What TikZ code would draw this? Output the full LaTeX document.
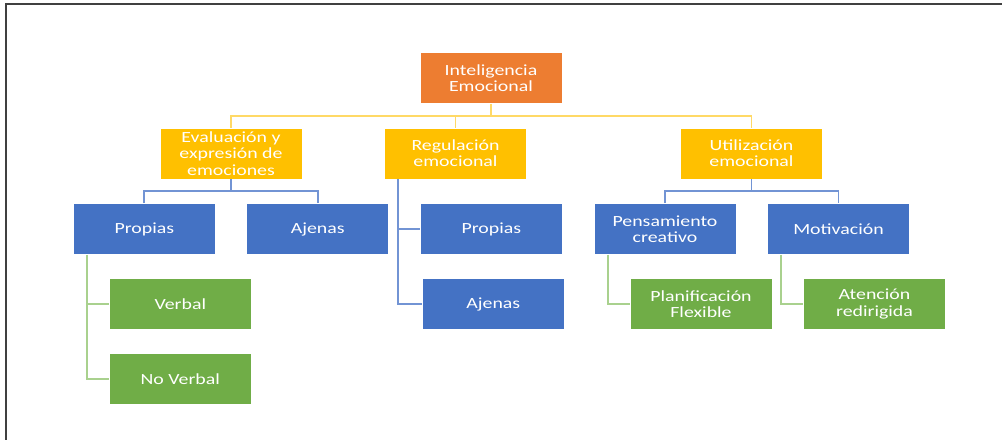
\documentclass[tikz,border=0pt]{standalone}
\usepackage{fontspec}
\setmainfont{Carlito}[FakeStretch=1.28]
\definecolor{orangebox}{HTML}{ED7D31}
\definecolor{yellowbox}{HTML}{FFC000}
\definecolor{bluebox}{HTML}{4472C4}
\definecolor{greenbox}{HTML}{70AD47}
\definecolor{ylink}{HTML}{FFD966}
\definecolor{blink}{HTML}{7294D4}
\definecolor{glink}{HTML}{A9D18E}
\definecolor{framecol}{HTML}{404040}
\tikzset{
  box/.style={minimum width=142pt, minimum height=51pt, inner sep=0pt, align=center,
    text=white, draw=white, line width=0.6pt, font=\fontsize{15.5}{16.2}\selectfont},
  obox/.style={box, fill=orangebox},
  ybox/.style={box, fill=yellowbox},
  bbox/.style={box, fill=bluebox},
  gbox/.style={box, fill=greenbox},
  ycon/.style={draw=ylink, line width=1.9pt},
  bcon/.style={draw=blink, line width=1.9pt},
  gcon/.style={draw=glink, line width=1.9pt}
}
\begin{document}
\begin{tikzpicture}[x=1pt,y=-1pt]
\useasboundingbox (0,0) rectangle (1002,440);
\fill[white] (0,0) rectangle (1002,440);
\draw[framecol, line width=1.6pt] (1002,4) -- (6,4) -- (6,440);
% nodes
\node[obox] (ie) at (491,78) {Inteligencia\\Emocional};
\node[ybox] (ev) at (231,153.5) {Evaluación y\\expresión de\\emociones};
\node[ybox] (rg) at (455.5,153.5) {Regulación\\emocional};
\node[ybox] (ut) at (751.5,153.5) {Utilización\\emocional};
\node[bbox] (p1) at (144.3,229) {Propias};
\node[bbox] (a1) at (317.7,229) {Ajenas};
\node[gbox] (vb) at (180.3,304) {Verbal};
\node[gbox] (nv) at (180.3,379) {No Verbal};
\node[bbox] (p2) at (491.3,229) {Propias};
\node[bbox] (a2) at (493.3,304) {Ajenas};
\node[bbox] (pc) at (665,229) {Pensamiento\\creativo};
\node[bbox] (mo) at (838.5,229) {Motivación};
\node[gbox] (pf) at (701,304) {Planificación\\Flexible};
\node[gbox] (at) at (874.5,304) {Atención\\redirigida};
% helper coordinates
\coordinate (ybus) at (0,116);
\coordinate (bbus) at (0,191);
\coordinate (rx) at (397.7,0);
\coordinate (gx1) at (87.3,0);
\coordinate (gx2) at (607.7,0);
\coordinate (gx3) at (781,0);
% yellow connectors
\draw[ycon] (ev.north) |- (ybus -| ut.north) -- (ut.north);
\draw[ycon] (ie.south) -- (ie.south |- ybus);
\draw[ycon] (rg.north) -- (rg.north |- ybus);
% blue connectors
\draw[bcon] (p1.north) |- (bbus -| a1.north) -- (a1.north);
\draw[bcon] (ev.south) -- (ev.south |- bbus);
\draw[bcon] (pc.north) |- (bbus -| mo.north) -- (mo.north);
\draw[bcon] (ut.south) -- (ut.south |- bbus);
\draw[bcon] (rx |- rg.south) -- (rx |- a2.west) -- (a2.west);
\draw[bcon] (rx |- p2.west) -- (p2.west);
% green connectors
\draw[gcon] (gx1 |- p1.south) -- (gx1 |- nv.west) -- (nv.west);
\draw[gcon] (gx1 |- vb.west) -- (vb.west);
\draw[gcon] (gx2 |- pc.south) |- (pf.west);
\draw[gcon] (gx3 |- mo.south) |- (at.west);
\end{tikzpicture}
\end{document}
